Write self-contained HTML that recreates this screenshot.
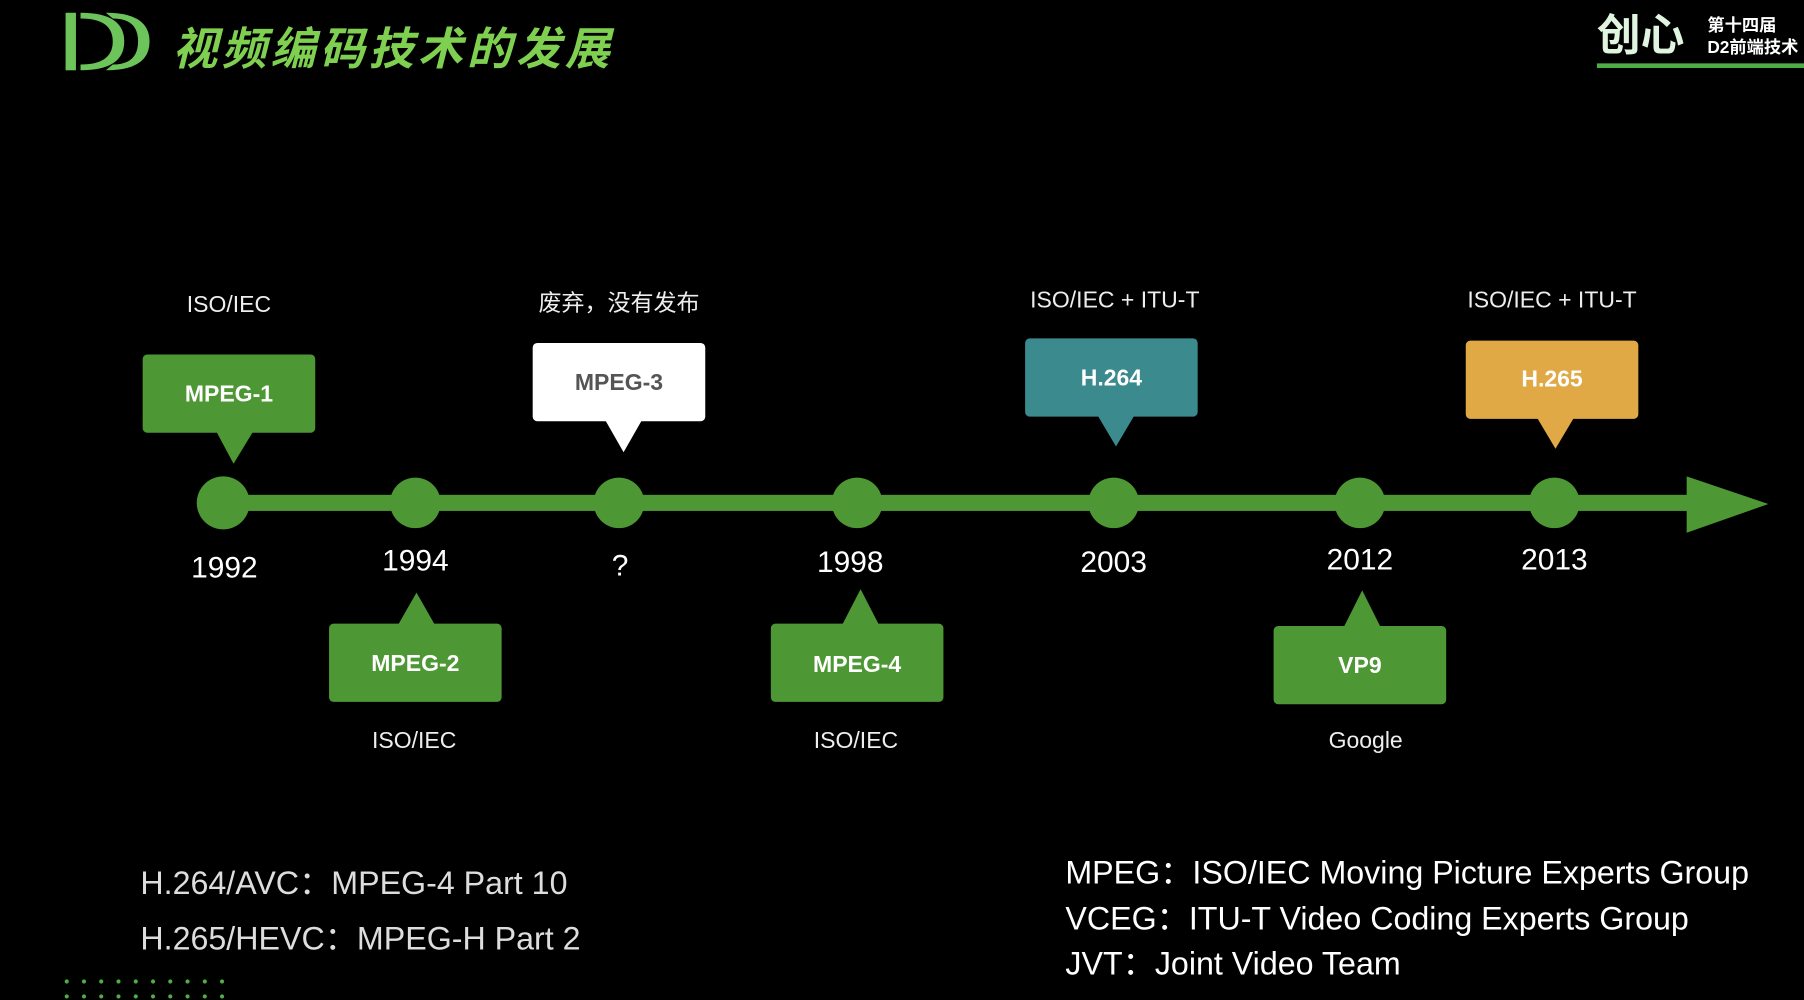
<!DOCTYPE html>
<html><head><meta charset="utf-8"><style>
html,body{margin:0;padding:0;background:#000;width:1804px;height:1000px;overflow:hidden}
svg{display:block}
text{font-family:"Liberation Sans","Noto Sans CJK SC",sans-serif}
</style></head><body>
<svg width="1804" height="1000" viewBox="0 0 1568 869" xmlns="http://www.w3.org/2000/svg">
<rect width="1568" height="869" fill="#000"/>
<rect x="57" y="11" width="9" height="50" fill="#6cc45a"/>
<path d="M70 11 Q108 11 108 36 Q108 61 70 61 L70 56 Q98 56 98 36 Q98 16 70 16Z" fill="#6cc45a"/>
<path d="M92 11 Q130 11 130 36 Q130 61 92 61 L98 56 Q120 56 120 36 Q120 16 98 16Z" fill="#6cc45a"/>
<text x="150" y="56" font-size="39" font-weight="bold" font-style="italic" fill="#7fd050" textLength="380" lengthAdjust="spacing">视频编码技术的发展</text>
<text x="1388" y="44" font-size="38" fill="#e0f5e0" font-weight="bold">创心</text>
<text x="1484" y="27" font-size="15" fill="#fff" font-weight="bold">第十四届</text>
<text x="1484" y="46" font-size="15" fill="#fff" font-weight="bold">D2前端技术</text>
<rect x="1388" y="55" width="180" height="4" fill="#4fae45"/>
<g fill="#4d9834">
<rect x="193" y="430" width="1280" height="14"/>
<polygon points="1466,414 1537,438 1466,463"/>
<circle cx="194" cy="437" r="23"/>
<circle cx="361" cy="437" r="22"/>
<circle cx="538" cy="437" r="22"/>
<circle cx="745" cy="437" r="22"/>
<circle cx="968" cy="437" r="22"/>
<circle cx="1182" cy="437" r="22"/>
<circle cx="1351" cy="437" r="22"/>
</g>
<g fill="#fff" font-size="26" text-anchor="middle">
<text x="195" y="502">1992</text>
<text x="361" y="496">1994</text>
<text x="539" y="500">?</text>
<text x="739" y="497">1998</text>
<text x="968" y="497">2003</text>
<text x="1182" y="495">2012</text>
<text x="1351" y="495">2013</text>
</g>
<g>
<rect x="124" y="308" width="150" height="68" rx="4" fill="#4d9834"/>
<polygon points="188,375 220,375 203,403" fill="#4d9834"/>
<rect x="463" y="298" width="150" height="68" rx="4" fill="#fff"/>
<polygon points="526,365 558,365 542,393" fill="#fff"/>
<rect x="891" y="294" width="150" height="68" rx="4" fill="#3a8a8e"/>
<polygon points="954,361 986,361 970,388" fill="#3a8a8e"/>
<rect x="1274" y="296" width="150" height="68" rx="4" fill="#e1a946"/>
<polygon points="1336,363 1368,363 1352,390" fill="#e1a946"/>
<rect x="286" y="542" width="150" height="68" rx="4" fill="#4d9834"/>
<polygon points="346,543 378,543 362,515" fill="#4d9834"/>
<rect x="670" y="542" width="150" height="68" rx="4" fill="#4d9834"/>
<polygon points="732,543 764,543 748,512" fill="#4d9834"/>
<rect x="1107" y="544" width="150" height="68" rx="4" fill="#4d9834"/>
<polygon points="1168,545 1200,545 1184,513" fill="#4d9834"/>
</g>
<g font-size="20" font-weight="bold" text-anchor="middle" fill="#fff">
<text x="199" y="349">MPEG-1</text>
<text x="538" y="339" fill="#555">MPEG-3</text>
<text x="966" y="335">H.264</text>
<text x="1349" y="336">H.265</text>
<text x="361" y="583">MPEG-2</text>
<text x="745" y="584">MPEG-4</text>
<text x="1182" y="585">VP9</text>
</g>
<g font-size="20" text-anchor="middle" fill="#eee">
<text x="199" y="271">ISO/IEC</text>
<text x="538" y="270">废弃，没有发布</text>
<text x="969" y="267">ISO/IEC + ITU-T</text>
<text x="1349" y="267">ISO/IEC + ITU-T</text>
<text x="360" y="650">ISO/IEC</text>
<text x="744" y="650">ISO/IEC</text>
<text x="1187" y="650">Google</text>
</g>
<g font-size="28" fill="#ddd">
<text x="122" y="777">H.264/AVC：MPEG-4 Part 10</text>
<text x="122" y="825">H.265/HEVC：MPEG-H Part 2</text>
<text x="926" y="768" fill="#fff">MPEG：ISO/IEC Moving Picture Experts Group</text>
<text x="926" y="808" fill="#fff">VCEG：ITU-T Video Coding Experts Group</text>
<text x="926" y="847" fill="#fff">JVT：Joint Video Team</text>
</g>
<g fill="#4fae45">
<circle cx="58" cy="853" r="1.8"/><circle cx="73" cy="853" r="1.8"/><circle cx="88" cy="853" r="1.8"/><circle cx="103" cy="853" r="1.8"/><circle cx="118" cy="853" r="1.8"/><circle cx="133" cy="853" r="1.8"/><circle cx="148" cy="853" r="1.8"/><circle cx="163" cy="853" r="1.8"/><circle cx="178" cy="853" r="1.8"/><circle cx="193" cy="853" r="1.8"/>
<circle cx="58" cy="866" r="1.8"/><circle cx="73" cy="866" r="1.8"/><circle cx="88" cy="866" r="1.8"/><circle cx="103" cy="866" r="1.8"/><circle cx="118" cy="866" r="1.8"/><circle cx="133" cy="866" r="1.8"/><circle cx="148" cy="866" r="1.8"/><circle cx="163" cy="866" r="1.8"/><circle cx="178" cy="866" r="1.8"/><circle cx="193" cy="866" r="1.8"/>
</g>
</svg>
</body></html>
